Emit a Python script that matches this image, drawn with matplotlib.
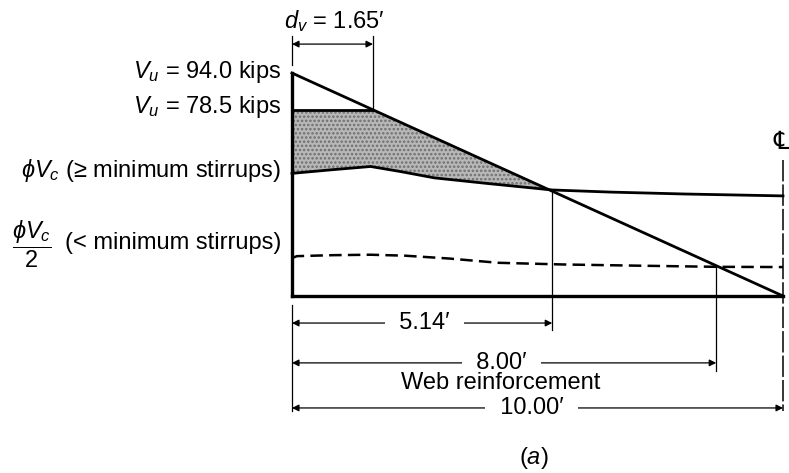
import matplotlib.pyplot as plt
import numpy as np

plt.rcParams['font.family'] = ['Liberation Sans', 'DejaVu Sans']
plt.rcParams['mathtext.fontset'] = 'custom'
plt.rcParams['mathtext.rm'] = 'Liberation Sans'
plt.rcParams['mathtext.it'] = 'Liberation Sans:italic'
plt.rcParams['mathtext.bf'] = 'Liberation Sans:bold'
plt.rcParams['hatch.linewidth'] = 1.2

# shear envelope (x in drawn feet, V in kips)
span = 10.0
vu_support = 94.0
vu_dv = 78.5
x_dv = 1.65

phi_x = [0.0, 0.8, 1.6, 2.2, 2.9, 4.0, 5.30, 6.5, 8.0, 10.0]
phi_vc = [51.7, 53.2, 54.6, 52.5, 49.8, 47.4, 44.7, 43.8, 43.0, 42.2]

half_x = [0.0, 0.1, 0.8, 1.6, 2.3, 3.2, 4.2, 5.5, 7.0, 8.64, 10.0]
half_vc = [16.0, 16.8, 17.2, 17.4, 17.0, 15.8, 14.0, 13.3, 12.8, 12.3, 12.2]

# dimension lines
dim_x = [5.30, 8.64, 10.0]
dim_y = [-11.4, -28.2, -47.2]
dim_text_x = [2.70, 4.26, 4.88]
dim_labels = ["5.14\u2032", "8.00\u2032", "10.00\u2032"]

fs = 17

fig = plt.figure(figsize=(7.89, 4.73), dpi=100)
ax = fig.add_axes([0, 0, 1, 1])
px_ft = 49.1
px_kip = 2.372
ax.set_xlim(-292 / px_ft, (789 - 292) / px_ft)
ax.set_ylim(-(473 - 296) / px_kip, 296 / px_kip)
ax.axis('off')

def vu_at(x):
    return vu_support * (1 - x / span)

# shaded region where stirrups are required
cross = dim_x[0]
fill_x = [0.0, x_dv, cross] + [x for x in phi_x[::-1] if x < cross]
fill_y = [vu_dv, vu_dv, vu_at(cross)] + [v for x, v in zip(phi_x[::-1], phi_vc[::-1]) if x < cross]
ax.fill(fill_x, fill_y, facecolor='#b8b8b8', edgecolor='#6e6e6e', hatch='....', lw=0)

ax.plot([0, span], [vu_support, 0], color='k', lw=2)
ax.plot([0, 0], [0, vu_support], color='k', lw=2.4)
ax.plot([0, span], [0, 0], color='k', lw=2.4)
ax.plot([0, x_dv], [vu_dv, vu_dv], color='k', lw=2)
ax.plot(phi_x, phi_vc, color='k', lw=2)
ax.plot(half_x, half_vc, color='k', lw=1.8, ls=(0, (5, 2.5)))

# centre line
ax.plot([span, span], [57.5, -48.5], color='k', lw=1.1, ls=(0, (14, 2)))
ax.text(9.96, 65.0, '\u2104', ha='center', va='center', fontsize=18)

# extension lines
ax.plot([0, 0], [97.5, 109.5], color='k', lw=0.9)
ax.plot([x_dv, x_dv], [vu_dv, 109.5], color='k', lw=0.9)
ax.plot([0, 0], [-3.8, -48.5], color='k', lw=0.9)
ax.plot([dim_x[0], dim_x[0]], [44.7, -14.5], color='k', lw=0.9)
ax.plot([dim_x[1], dim_x[1]], [12.3, -31.5], color='k', lw=0.9)

arrow = dict(arrowstyle='<|-|>', lw=0.9, color='k', mutation_scale=10,
             shrinkA=0, shrinkB=0)
ax.annotate('', xy=(0, 106.2), xytext=(x_dv, 106.2), arrowprops=arrow)
ax.text(0.86, 115.8, r'$d_v$ = 1.65$\prime$', ha='center', va='center', fontsize=fs)

for x1, y, tx, lab in zip(dim_x, dim_y, dim_text_x, dim_labels):
    ax.annotate('', xy=(0, y), xytext=(x1, y), arrowprops=arrow)
    ax.text(tx, y, '  ' + lab + '  ', ha='center', va='center', fontsize=fs,
            bbox=dict(boxstyle='square,pad=0.05', facecolor='white', edgecolor='none'))
ax.text(4.26, -36.8, 'Web reinforcement', ha='center', va='center', fontsize=fs,
        zorder=5)
ax.text(4.92, -68.3, r'($a$)', ha='center', va='center', fontsize=fs)

# left labels
lx = -0.22
ax.text(lx, 94.5, r'$V_u$ = 94.0 kips', ha='right', va='center', fontsize=fs)
ax.text(lx, 79.5, r'$V_u$ = 78.5 kips', ha='right', va='center', fontsize=fs)
ax.text(lx, 53.0, r'$\phi V_c$' + ' (\u2265 minimum stirrups)',
        ha='right', va='center', fontsize=fs)
ax.text(lx, 22.5, '(< minimum stirrups)', ha='right', va='center', fontsize=fs)
ax.text(-5.3, 22.0, r'$\dfrac{\phi V_c}{2}$', ha='center', va='center', fontsize=fs)

fig.savefig('out.png', dpi=100)
